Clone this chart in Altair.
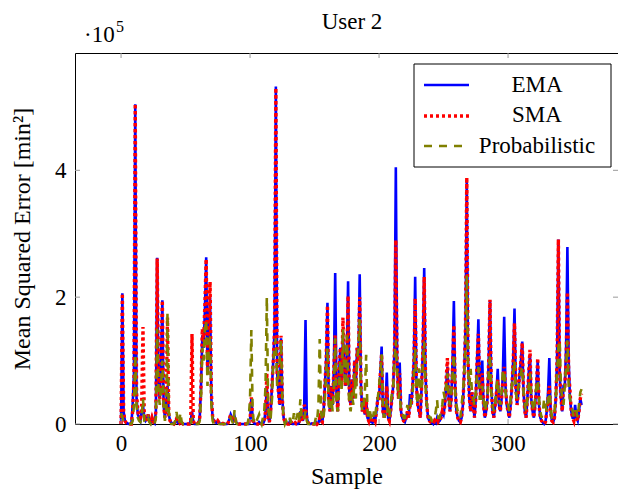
import altair as alt
import pandas as pd

series_names = ["EMA", "SMA", "Probabilistic"]
series_colors = ["#0000ff", "#ff0000", "#808000"]
x_ticks = [0, 100, 200, 300]
y_ticks = [0, 200000, 400000]

# values in units of 1e3 min^2, sample index = position in list
ema_k = [
    0, 206, 20, 5, 2, 1, 0, 0, 0, 30, 80, 504, 40, 15, 10, 5, 20, 30, 10, 5,
    8, 15, 5, 2, 10, 3, 1, 20, 262, 60, 40, 100, 195, 30, 10, 30, 60, 15, 5, 2,
    1, 0, 3, 8, 2, 1, 6, 2, 0, 0, 0, 0, 0, 0, 5, 20, 3, 0, 0, 0,
    2, 10, 60, 140, 120, 180, 263, 80, 150, 200, 40, 10, 5, 3, 2, 5, 2, 0, 0, 1,
    0, 0, 0, 2, 8, 15, 10, 5, 12, 4, 1, 0, 0, 0, 0, 0, 0, 0, 0, 0,
    5, 40, 10, 2, 0, 0, 0, 3, 1, 0, 0, 5, 20, 60, 10, 3, 20, 60, 100, 150,
    532, 80, 50, 30, 135, 40, 10, 3, 1, 0, 0, 5, 3, 0, 0, 2, 0, 0, 2, 20,
    10, 5, 30, 164, 10, 2, 0, 0, 1, 0, 0, 3, 0, 2, 10, 5, 3, 20, 60, 100,
    191, 40, 20, 60, 30, 90, 238, 50, 20, 80, 120, 60, 140, 100, 60, 100, 225, 40, 30, 70,
    40, 100, 60, 120, 100, 236, 60, 20, 30, 15, 40, 10, 5, 15, 3, 2, 10, 5, 20, 40,
    40, 80, 122, 20, 10, 30, 81, 10, 5, 20, 40, 60, 120, 405, 100, 40, 97, 20, 10, 5,
    3, 10, 20, 10, 47, 30, 60, 100, 232, 60, 30, 20, 10, 60, 120, 246, 80, 30, 10, 5,
    3, 2, 0, 5, 2, 10, 3, 5, 10, 20, 15, 30, 60, 90, 40, 20, 40, 100, 194, 60,
    20, 10, 5, 3, 10, 30, 80, 150, 385, 100, 40, 20, 50, 30, 10, 40, 100, 165, 60, 40,
    100, 30, 10, 20, 40, 100, 195, 60, 20, 10, 30, 50, 87, 30, 20, 40, 80, 169, 60, 30,
    20, 10, 30, 60, 100, 182, 60, 30, 50, 80, 100, 130, 50, 20, 10, 40, 80, 110, 40, 20,
    10, 30, 60, 100, 30, 10, 5, 2, 0, 3, 20, 50, 104, 20, 5, 3, 10, 40, 100, 291,
    80, 40, 20, 60, 60, 120, 279, 100, 40, 20, 10, 10, 30, 10, 5, 20, 40, 30,
]

sma_k = [
    0, 206, 20, 5, 2, 1, 0, 0, 0, 20, 70, 505, 50, 20, 10, 5, 30, 153, 15, 5,
    8, 15, 5, 2, 10, 3, 1, 20, 261, 70, 40, 100, 195, 30, 10, 30, 168, 15, 5, 2,
    1, 0, 3, 8, 2, 1, 6, 2, 0, 0, 0, 0, 0, 0, 5, 142, 5, 0, 0, 0,
    2, 10, 60, 150, 130, 190, 260, 90, 160, 224, 50, 10, 5, 3, 2, 5, 2, 0, 0, 1,
    0, 0, 0, 2, 8, 15, 10, 5, 12, 4, 1, 0, 0, 0, 0, 0, 0, 0, 0, 0,
    5, 42, 10, 2, 0, 0, 0, 3, 1, 0, 0, 5, 20, 80, 10, 3, 20, 60, 100, 150,
    530, 80, 50, 30, 139, 40, 10, 3, 1, 0, 0, 5, 3, 0, 0, 2, 0, 0, 2, 20,
    10, 5, 30, 25, 10, 2, 0, 0, 1, 0, 0, 3, 0, 2, 10, 5, 3, 20, 60, 100,
    187, 40, 20, 60, 30, 90, 140, 50, 20, 80, 120, 60, 168, 100, 60, 100, 202, 40, 30, 70,
    40, 100, 60, 120, 100, 200, 60, 20, 30, 15, 40, 10, 5, 15, 3, 2, 10, 5, 20, 40,
    40, 80, 110, 20, 10, 30, 60, 10, 5, 20, 40, 60, 120, 290, 100, 40, 80, 20, 10, 5,
    3, 10, 20, 10, 30, 30, 60, 100, 198, 60, 30, 20, 10, 60, 120, 232, 80, 30, 10, 5,
    3, 2, 0, 5, 2, 10, 3, 5, 10, 20, 15, 30, 70, 104, 40, 20, 40, 90, 156, 60,
    20, 10, 5, 3, 10, 30, 80, 150, 389, 100, 40, 20, 50, 30, 10, 40, 100, 142, 60, 40,
    80, 30, 10, 20, 40, 100, 196, 60, 20, 10, 30, 50, 70, 30, 20, 40, 70, 90, 60, 30,
    20, 10, 30, 60, 100, 159, 60, 30, 50, 80, 100, 128, 50, 20, 10, 40, 80, 117, 40, 20,
    10, 30, 60, 104, 30, 10, 5, 2, 0, 3, 20, 40, 60, 20, 5, 3, 10, 40, 100, 291,
    80, 40, 20, 60, 60, 100, 208, 80, 54, 20, 10, 5, 20, 10, 5, 20, 40, 48,
]

prob_k = [
    17, 10, 5, 2, 0, 0, 0, 0, 0, 5, 30, 110, 30, 10, 5, 3, 10, 40, 5, 2,
    5, 10, 3, 0, 5, 2, 0, 10, 150, 50, 30, 60, 100, 30, 5, 20, 176, 20, 5, 0,
    0, 0, 5, 19, 5, 0, 18, 3, 0, 0, 0, 0, 0, 0, 0, 10, 0, 0, 0, 0,
    0, 5, 40, 120, 100, 150, 164, 60, 120, 140, 30, 5, 0, 0, 0, 3, 0, 0, 0, 0,
    0, 0, 0, 0, 5, 10, 5, 0, 22, 3, 0, 0, 0, 0, 0, 0, 0, 0, 0, 10,
    40, 148, 20, 0, 0, 5, 10, 15, 5, 0, 10, 20, 60, 200, 30, 5, 10, 40, 100, 120,
    135, 60, 80, 100, 132, 40, 10, 0, 5, 0, 0, 10, 0, 0, 17, 5, 10, 17, 5, 39,
    10, 5, 10, 20, 5, 0, 0, 0, 5, 0, 0, 10, 5, 30, 134, 20, 5, 10, 40, 80,
    120, 30, 20, 40, 20, 60, 135, 30, 20, 60, 100, 50, 150, 80, 60, 140, 70, 30, 20, 50,
    30, 80, 40, 100, 120, 165, 50, 20, 30, 50, 109, 20, 10, 20, 5, 5, 20, 10, 30, 40,
    60, 80, 110, 20, 10, 20, 40, 10, 10, 30, 50, 60, 100, 132, 80, 40, 50, 20, 20, 10,
    10, 20, 30, 20, 20, 40, 50, 80, 120, 50, 30, 88, 40, 50, 100, 130, 60, 30, 20, 10,
    10, 5, 5, 10, 20, 38, 10, 10, 20, 30, 51, 40, 60, 80, 40, 30, 50, 80, 110, 50,
    30, 20, 20, 10, 30, 50, 80, 120, 235, 80, 60, 87, 50, 40, 30, 50, 80, 90, 40, 40,
    60, 40, 20, 30, 40, 80, 110, 50, 30, 20, 30, 60, 70, 40, 30, 50, 85, 85, 50, 40,
    30, 20, 40, 60, 80, 100, 50, 40, 60, 70, 80, 90, 50, 30, 20, 40, 60, 80, 40, 30,
    20, 40, 60, 70, 40, 20, 10, 20, 40, 30, 20, 40, 50, 30, 10, 10, 20, 40, 80, 120,
    132, 60, 40, 30, 60, 90, 132, 60, 40, 30, 20, 10, 20, 20, 10, 30, 50, 55,
]

rows = []
for name, vals in zip(series_names, [ema_k, sma_k, prob_k]):
    for i, v in enumerate(vals):
        rows.append({"Sample": i, "MSE": v * 1000.0, "series": name})
df = pd.DataFrame(rows)

FONT = "Liberation Serif"
FS = 23
FS_TITLE = 24
W, H = 543, 371
PX_PER_SAMPLE = 1.29
X_MIN = -35.7

xs = alt.Scale(domain=[X_MIN, X_MIN + W / PX_PER_SAMPLE], nice=False, zero=False)
ys = alt.Scale(domain=[0, 585000], nice=False, zero=False)

x_enc = alt.X("Sample:Q", scale=xs,
              axis=alt.Axis(values=x_ticks, title="Sample", labelPadding=8, titlePadding=9))
y_enc = alt.Y("MSE:Q", scale=ys,
              axis=alt.Axis(values=y_ticks, labelExpr="datum.value / 100000",
                            title="Mean Squared Error [min²]", labelPadding=9, titlePadding=20))

line_styles = [
    dict(strokeWidth=2.6),
    dict(strokeWidth=3.4, strokeDash=[3, 3]),
    dict(strokeWidth=2.6, strokeDash=[8, 7]),
]

layers = []
for name, col, st in zip(series_names, series_colors, line_styles):
    layers.append(
        alt.Chart(df).transform_filter(alt.datum.series == name)
        .mark_line(color=col, strokeCap="butt", **st)
        .encode(x=x_enc, y=y_enc)
    )

# inner tick marks on all four sides (positions come from the scales)
tick_col = "#9a9a9a"
xt = pd.DataFrame({"Sample": x_ticks})
yt = pd.DataFrame({"MSE": y_ticks})
layers.append(alt.Chart(xt).mark_rule(color=tick_col).encode(
    x=x_enc, y=alt.value(H), y2=alt.value(H - 5)))
layers.append(alt.Chart(xt).mark_rule(color=tick_col).encode(
    x=x_enc, y=alt.value(0), y2=alt.value(5)))
layers.append(alt.Chart(yt).mark_rule(color=tick_col).encode(
    y=y_enc, x=alt.value(0), x2=alt.value(5)))
layers.append(alt.Chart(yt).mark_rule(color=tick_col).encode(
    y=y_enc, x=alt.value(W), x2=alt.value(W - 5)))

# title and scale factor annotation
title_df = pd.DataFrame({"t": ["User 2"]})
layers.append(alt.Chart(title_df).mark_text(font=FONT, fontSize=FS, align="center",
                                            baseline="alphabetic", color="black").encode(
    text="t:N", x=alt.value(277), y=alt.value(-24)))
mult = pd.DataFrame({"t": ["·10"]})
expo = pd.DataFrame({"t": ["5"]})
layers.append(alt.Chart(mult).mark_text(font=FONT, fontSize=FS, align="left",
                                        baseline="alphabetic", color="black").encode(
    text="t:N", x=alt.value(9), y=alt.value(-11)))
layers.append(alt.Chart(expo).mark_text(font=FONT, fontSize=16, align="left",
                                        baseline="alphabetic", color="black").encode(
    text="t:N", x=alt.value(41), y=alt.value(-21)))

# legend
leg_box = pd.DataFrame({"a": [0]})
layers.append(alt.Chart(leg_box).mark_rect(fill="white", stroke="black", strokeWidth=1).encode(
    x=alt.value(339), x2=alt.value(536), y=alt.value(11), y2=alt.value(114)))
leg_line_y = [32, 63, 93]
leg_text_y = [39, 69, 100]
for name, col, st, ly, ty in zip(series_names, series_colors, line_styles, leg_line_y, leg_text_y):
    d = pd.DataFrame({"series": [name]})
    layers.append(alt.Chart(d).mark_rule(color=col, strokeCap="butt", **st).encode(
        x=alt.value(349), x2=alt.value(394), y=alt.value(ly)))
    layers.append(alt.Chart(d).mark_text(font=FONT, fontSize=FS, align="center",
                                         baseline="alphabetic", color="black").encode(
        text="series:N", x=alt.value(462), y=alt.value(ty)))

chart = alt.layer(*layers).properties(
    width=W, height=H,
    autosize=alt.AutoSizeParams(type="none"),
    padding={"left": 67, "top": 45, "right": 0, "bottom": 66},
).configure_view(stroke="black", strokeWidth=1).configure_axis(
    labelFont=FONT, titleFont=FONT, labelFontSize=FS, titleFontSize=FS_TITLE,
    titleFontWeight="normal", labelColor="black", titleColor="black",
    tickSize=0, domain=False, grid=False,
)

chart.save("out.html", embed_options={"renderer": "svg", "actions": False})
